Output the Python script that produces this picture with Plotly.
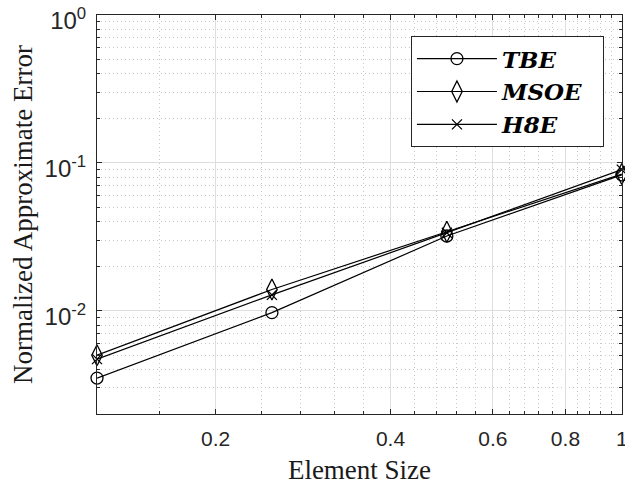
import plotly.graph_objects as go
import math

element_size = [0.125, 0.25, 0.5, 1.0]
tbe = [0.0035, 0.0097, 0.032, 0.083]
msoe = [0.0050, 0.0139, 0.0342, 0.084]
h8e = [0.0047, 0.0128, 0.0337, 0.090]

x_ticks = [0.2, 0.4, 0.6, 0.8, 1.0]
x_ticktext = ["0.2", "0.4", "0.6", "0.8", "1"]
x_minor = [0.16, 0.24, 0.28, 0.32, 0.36, 0.44, 0.48, 0.52, 0.56,
           0.64, 0.68, 0.72, 0.76, 0.84, 0.88, 0.92, 0.96]
y_ticks = [0.01, 0.1, 1.0]
y_ticktext = ["10<sup>-2</sup>", "10<sup>-1</sup>", "10<sup>0</sup>"]
y_minor = [m * d for d in [0.001, 0.01, 0.1] for m in range(2, 10) if m * d >= 0.002]

series = [
    ("TBE", tbe, "circle-open", 12),
    ("MSOE", msoe, "diamond-tall-open", 15),
    ("H8E", h8e, "x-thin-open", 10),
]

fig = go.Figure()
for i, (name, vals, sym, sz) in enumerate(series):
    fig.add_trace(go.Scatter(
        x=element_size, y=vals, mode="lines+markers",
        name="<b><i>" + name + "</i></b>&nbsp;&nbsp;",
        legendgroup="g%d" % i, cliponaxis=False,
        line=dict(color="black", width=1.2),
        marker=dict(symbol=sym, size=sz, color="black",
                    line=dict(color="black", width=1.3)),
    ))

axis_color = "#262626"
grid_major = "#dedede"
grid_minor = "#c8c8c8"
eps = 0.0004

fig.update_xaxes(
    type="log", range=[math.log10(0.125), eps],
    tickmode="array", tickvals=x_ticks, ticktext=x_ticktext,
    ticks="inside", ticklen=5, tickcolor=axis_color, ticklabelstandoff=6,
    ticklabeloverflow="allow",
    showline=True, linecolor=axis_color, linewidth=1, mirror="ticks",
    showgrid=True, gridcolor=grid_major, gridwidth=1, automargin=False,
    tickfont=dict(family="Liberation Sans", size=21, color=axis_color),
    title=dict(text="Element Size", standoff=10,
               font=dict(family="Liberation Serif", size=27, color="#1a1a1a")),
    minor=dict(tickmode="array", tickvals=x_minor, ticks="inside", ticklen=3,
               tickcolor=axis_color, showgrid=True, gridcolor=grid_minor,
               griddash="1px,3px", gridwidth=1),
    zeroline=False,
)
fig.update_yaxes(
    type="log", range=[math.log10(0.002), eps],
    tickmode="array", tickvals=y_ticks, ticktext=y_ticktext,
    ticks="inside", ticklen=5, tickcolor=axis_color, ticklabelstandoff=5,
    ticklabeloverflow="allow", ticklabelshift=6,
    showline=True, linecolor=axis_color, linewidth=1, mirror="ticks",
    showgrid=True, gridcolor=grid_major, gridwidth=1, automargin=False,
    tickfont=dict(family="Liberation Sans", size=24, color=axis_color),
    title=dict(text="Normalized Approximate Error", standoff=4,
               font=dict(family="Liberation Serif", size=27, color="#1a1a1a")),
    minor=dict(tickmode="array", tickvals=y_minor, ticks="inside", ticklen=3,
               tickcolor=axis_color, showgrid=True, gridcolor=grid_minor,
               griddash="1px,3px", gridwidth=1),
    zeroline=False,
)

fig.update_layout(
    width=625, height=488,
    margin=dict(l=97, r=3, t=15, b=74),
    paper_bgcolor="white", plot_bgcolor="white",
    showlegend=True,
    legend=dict(
        x=0.598, y=0.947, xanchor="left", yanchor="top",
        bgcolor="white", bordercolor=axis_color, borderwidth=1,
        font=dict(family="DejaVu Serif", size=23, color="black"),
        traceorder="grouped", tracegroupgap=0, itemwidth=80,
    ),
)

fig.write_html("out.html", config={"displayModeBar": False},
               post_script="document.body.style.margin='0';document.body.style.overflow='hidden';")
